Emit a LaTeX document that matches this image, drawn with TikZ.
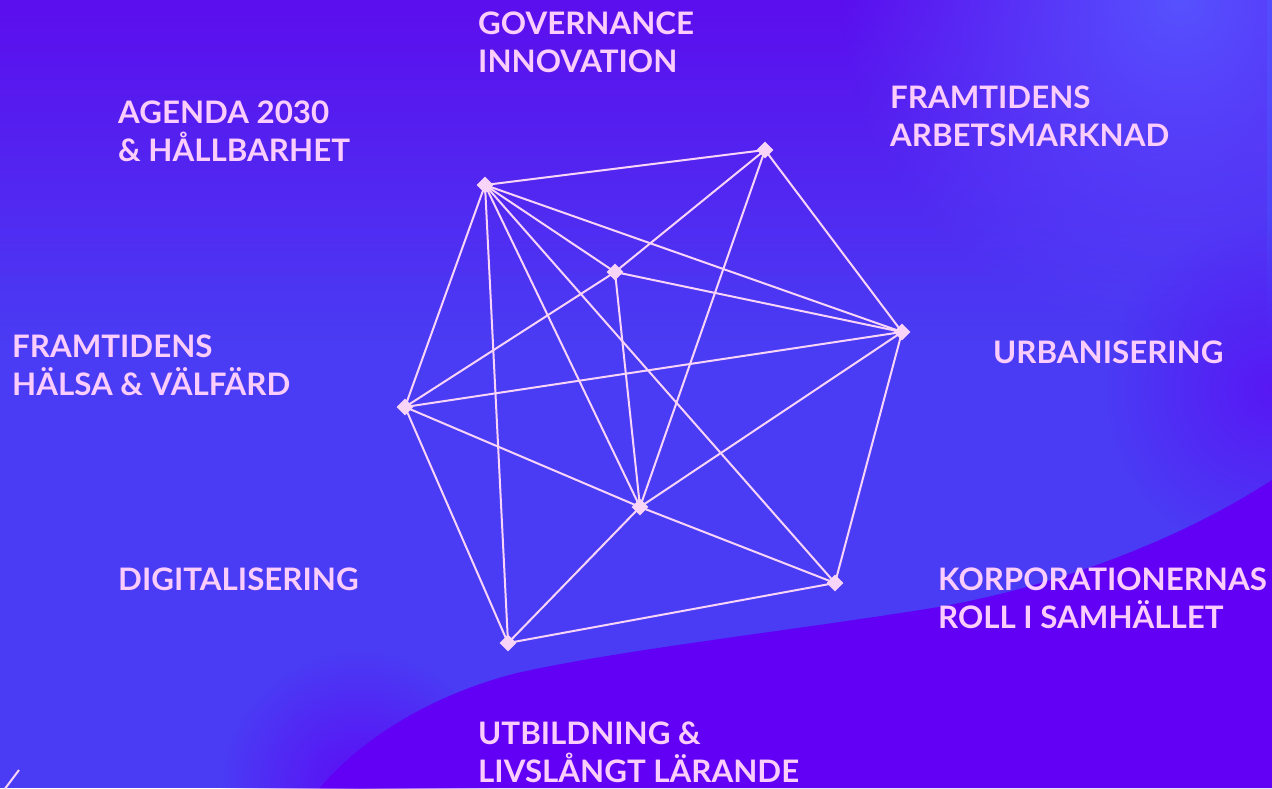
\documentclass[tikz,border=0pt]{standalone}
\usepackage{fontspec}
\setmainfont{Lato}
\usetikzlibrary{fadings,shapes.geometric}
\definecolor{basebl}{RGB}{74,60,244}
\definecolor{topvi}{RGB}{92,14,238}
\definecolor{toprt}{RGB}{86,82,255}
\definecolor{botvi}{RGB}{97,0,245}
\definecolor{txtpink}{RGB}{250,205,252}
\definecolor{linepink}{RGB}{248,212,248}
\tikzfading[name=fadedown, top color=transparent!0, bottom color=transparent!100]
\tikzfading[name=glow, inner color=transparent!0, outer color=transparent!100]
\tikzset{
  edge/.style={draw=linepink, line width=2pt},
  dia/.style={diamond, fill=linepink, inner sep=0pt, minimum width=17pt, minimum height=17pt},
  lbl/.style={anchor=base west, inner sep=0pt, text=txtpink, font=\bfseries\fontsize{31}{37}\selectfont\addfontfeature{FakeStretch=1.01}}
}
\begin{document}
\begin{tikzpicture}[x=1pt,y=-1pt]
\useasboundingbox (0,0) rectangle (1272,788);
% background
\fill[basebl] (0,0) rectangle (1272,788);
\fill[topvi, path fading=fadedown] (0,0) rectangle (1272,340);
\fill[toprt, path fading=glow] (1180,0) circle (340);
\fill[botvi, path fading=glow, opacity=0.6] (1272,390) circle (170);
\fill[botvi] (1272,480) .. controls (1180,540) and (1050,590) .. (920,610)
   .. controls (780,632) and (620,650) .. (517,673)
   .. controls (430,695) and (360,740) .. (320,788) -- (1272,788) -- cycle;
\fill[botvi, path fading=glow, opacity=0.8] (360,790) circle (140);
% points
\coordinate (A) at (485,185);
\coordinate (B) at (765,150);
\coordinate (C) at (615,272);
\coordinate (D) at (902,332);
\coordinate (E) at (405,407);
\coordinate (F) at (640,507);
\coordinate (G) at (835,583);
\coordinate (H) at (508,643);
% connectors
\draw[edge] (A) -- (B);
\draw[edge] (A) -- (C);
\draw[edge] (A) -- (D);
\draw[edge] (A) -- (E);
\draw[edge] (A) -- (F);
\draw[edge] (A) -- (G);
\draw[edge] (A) -- (H);
\draw[edge] (B) -- (C);
\draw[edge] (B) -- (D);
\draw[edge] (B) -- (F);
\draw[edge] (C) -- (D);
\draw[edge] (C) -- (E);
\draw[edge] (C) -- (F);
\draw[edge] (D) -- (E);
\draw[edge] (D) -- (F);
\draw[edge] (D) -- (G);
\draw[edge] (E) -- (F);
\draw[edge] (E) -- (H);
\draw[edge] (F) -- (G);
\draw[edge] (F) -- (H);
\draw[edge] (G) -- (H);
% diamonds
\foreach \p in {A,B,C,D,E,F,G,H} \node[dia] (d\p) at (\p) {};
% corner stroke
\coordinate (k1) at (4,790);
\coordinate (k2) at (19,770);
\draw[edge] (k1) -- (k2);
% labels
\node[lbl] (gov1) at (478,34) {GOVERNANCE};
\node[lbl] (gov2) at (478,72) {INNOVATION};
\node[lbl] (ag1) at (118,123) {AGENDA 2030};
\node[lbl] (ag2) at (118,161) {\&\ HÅLLBARHET};
\node[lbl] (fa1) at (890,108) {FRAMTIDENS};
\node[lbl] (fa2) at (890,146) {ARBETSMARKNAD};
\node[lbl] (urb) at (993,363) {URBANISERING};
\node[lbl] (fh1) at (12,357) {FRAMTIDENS};
\node[lbl] (fh2) at (12,395) {HÄLSA \& VÄLFÄRD};
\node[lbl] (dig) at (118,590) {DIGITALISERING};
\node[lbl] (ko1) at (938,590) {KORPORATIONERNAS};
\node[lbl] (ko2) at (938,628) {ROLL I SAMHÄLLET};
\node[lbl] (ut1) at (478,744) {UTBILDNING \&};
\node[lbl] (ut2) at (478,782) {LIVSLÅNGT LÄRANDE};
\end{tikzpicture}
\end{document}
